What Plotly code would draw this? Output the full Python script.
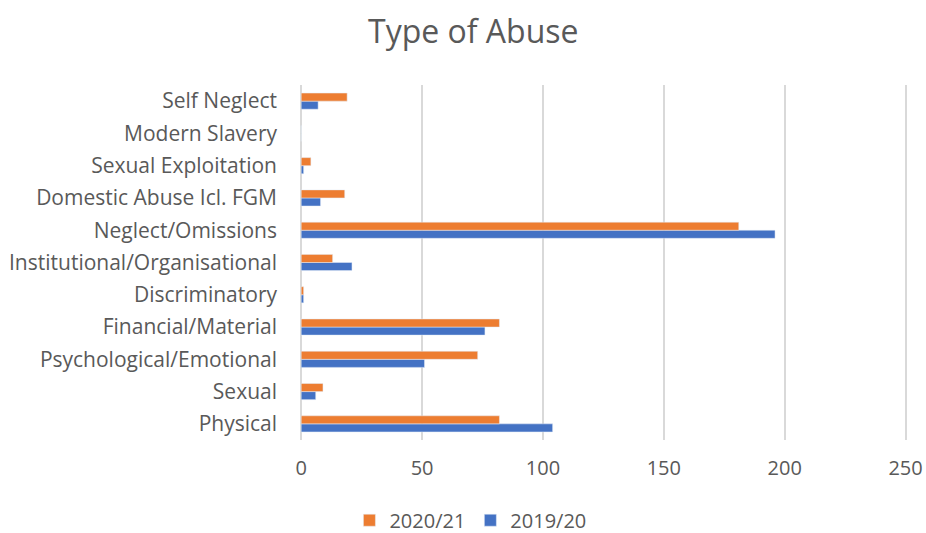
import plotly.graph_objects as go

categories = ["Physical", "Sexual", "Psychological/Emotional", "Financial/Material",
              "Discriminatory", "Institutional/Organisational", "Neglect/Omissions",
              "Domestic Abuse Icl. FGM", "Sexual Exploitation", "Modern Slavery", "Self Neglect"]
vals_2020_21 = [82, 9, 73, 82, 1, 13, 181, 18, 4, 0, 19]
vals_2019_20 = [104, 6, 51, 76, 1, 21, 196, 8, 1, 0, 7]
x_ticks = [0, 50, 100, 150, 200, 250]

font_family = "'Open Sans', sans-serif"
grey = "#595959"

fig = go.Figure()
fig.add_trace(go.Bar(y=categories, x=vals_2019_20, name="2019/20", orientation="h",
                     marker=dict(color="#4472C4")))
fig.add_trace(go.Bar(y=categories, x=vals_2020_21, name="2020/21", orientation="h",
                     marker=dict(color="#ED7D31")))

fig.update_layout(
    width=926, height=533,
    margin=dict(l=300, r=18, t=85, b=93, autoexpand=False),
    paper_bgcolor="white", plot_bgcolor="white",
    barmode="group", bargap=0.5, bargroupgap=0,
    title=dict(text="Type of Abuse", xref="paper", x=0.285, xanchor="center",
               y=0.94, yanchor="middle",
               font=dict(family=font_family, size=32, color=grey)),
    font=dict(family=font_family, size=19, color=grey),
    xaxis=dict(range=[-0.5, 251], tickvals=x_ticks, showgrid=True, gridcolor="#d9d9d9",
               gridwidth=1.5, zeroline=False, showline=False, ticks="", automargin=False,
               ticklabelstandoff=14, tickfont=dict(size=20, color=grey)),
    yaxis=dict(showgrid=False, showline=False, ticks="", automargin=False,
               ticklabelstandoff=22,
               tickfont=dict(size=21, color=grey), categoryorder="array",
               categoryarray=categories),
    legend=dict(orientation="h", xref="container", x=0.508, xanchor="center",
                yref="container", y=0.024, yanchor="middle", itemwidth=30,
                traceorder="reversed", font=dict(size=20, color=grey)),
)

fig.write_html("out.html")
